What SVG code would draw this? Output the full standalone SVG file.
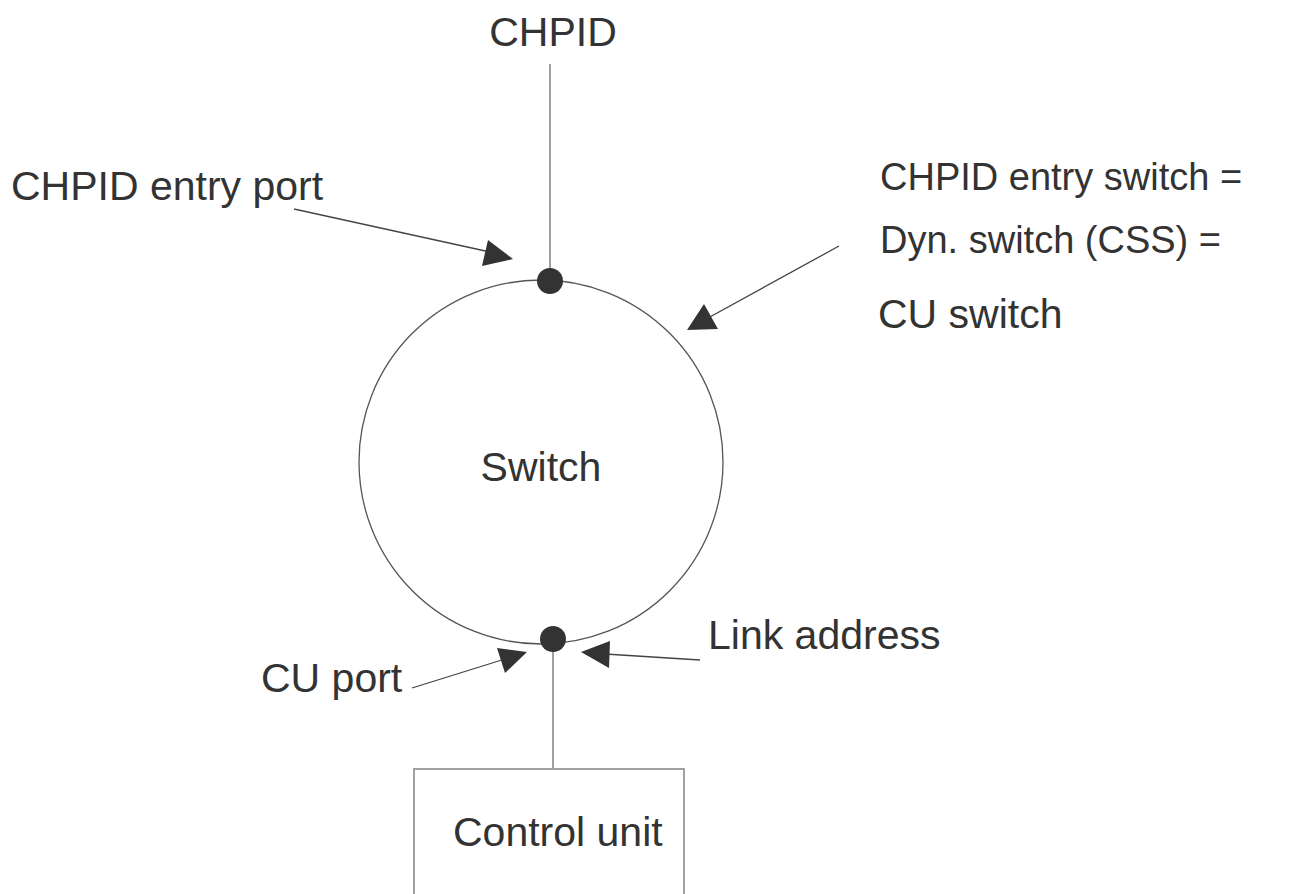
<svg xmlns="http://www.w3.org/2000/svg" width="1296" height="894" viewBox="0 0 1296 894">
<style>
text{font-family:"Liberation Sans",Arial,sans-serif;font-size:41px;fill:#333}
text.r{font-size:38px}
.ln{stroke:#a0a0a0;stroke-width:2;fill:none}
.ptr{stroke:#444;stroke-width:1.3;fill:none}
.ah{fill:#333}
</style>
<rect width="1296" height="894" fill="#fff"/>
<g id="connectors">
<line class="ln" x1="550" y1="64" x2="550" y2="281"/>
<line class="ln" x1="553" y1="639" x2="553" y2="769"/>
<line class="ptr" x1="294" y1="209" x2="490" y2="252"/>
<polygon class="ah" points="513,259 482,266 488,240"/>
<line class="ptr" x1="839" y1="246" x2="708" y2="318"/>
<polygon class="ah" points="687,330 704,304 718,329"/>
<line class="ptr" x1="412" y1="688" x2="505" y2="659"/>
<polygon class="ah" points="527,652 497,648 505,673"/>
<line class="ptr" x1="700" y1="660" x2="605" y2="654"/>
<polygon class="ah" points="581,652 610,641 609,668"/>
</g>
<g id="switch">
<circle cx="541" cy="462" r="182" fill="none" stroke="#555" stroke-width="1.3"/>
<text x="541" y="481" text-anchor="middle">Switch</text>
</g>
<g id="chpid-port"><circle cx="550" cy="281" r="13" fill="#333"/></g>
<g id="cu-port-dot"><circle cx="553" cy="639" r="13" fill="#333"/></g>
<g id="control-unit">
<rect x="414" y="769" width="270" height="140" fill="#fff" stroke="#a0a0a0" stroke-width="2"/>
<text x="453" y="846">Control unit</text>
</g>
<g id="labels">
<text x="553" y="46" text-anchor="middle">CHPID</text>
<text x="11" y="200">CHPID entry port</text>
<text class="r" x="880" y="190">CHPID entry switch =</text>
<text class="r" x="880" y="253">Dyn. switch (CSS) =</text>
<text x="878" y="328">CU switch</text>
<text x="708" y="649">Link address</text>
<text x="261" y="692">CU port</text>
</g>
</svg>
